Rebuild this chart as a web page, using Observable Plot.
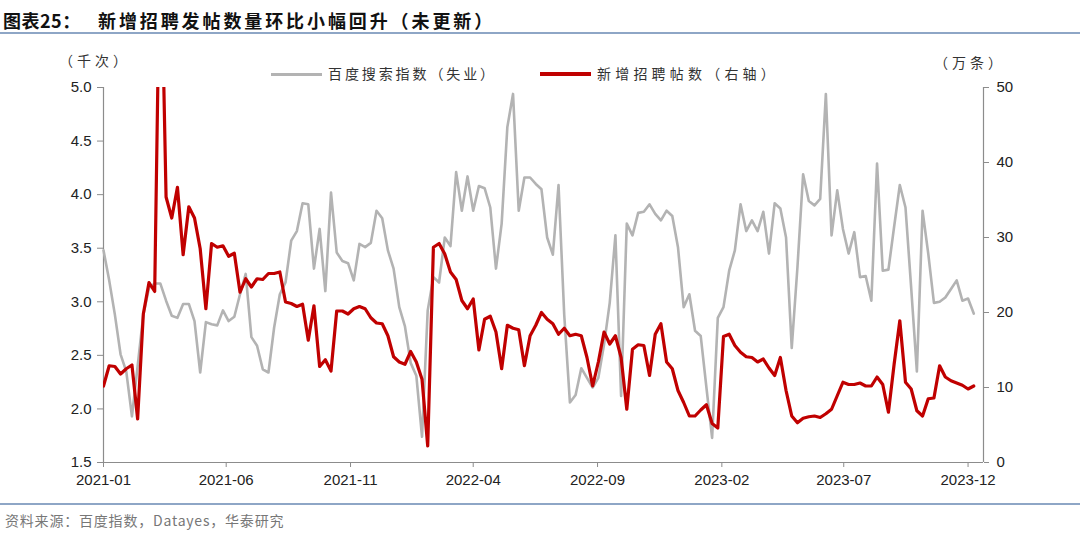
<!DOCTYPE html>
<html>
<head>
<meta charset="utf-8">
<script src="https://cdn.jsdelivr.net/npm/d3@7"></script>
<script src="https://cdn.jsdelivr.net/npm/@observablehq/plot@0.6"></script>
<style>
  html, body { margin: 0; padding: 0; background: #fff; }
  #wrap { position: relative; width: 1080px; height: 536px; overflow: hidden; font-family: "Noto Sans CJK SC", sans-serif; }
  .abs { position: absolute; white-space: nowrap; }
  #chart { position: absolute; left: 0; top: 0; }
</style>
</head>
<body>
<div id="wrap">
  <div class="abs" style="left:3px; top:7px; font-size:18px; font-weight:700; color:#111; letter-spacing:0.5px;">图表25：</div>
  <div class="abs" style="left:98px; top:7px; font-size:18px; font-weight:700; color:#111; letter-spacing:2.9px;">新增招聘发帖数量环比小幅回升（未更新）</div>
  <div class="abs" style="left:0; top:32px; width:1080px; height:2px; background:#8ea6c6;"></div>
  <div class="abs" style="left:59px; top:50px; font-size:14px; color:#333; letter-spacing:4px;">（千次）</div>
  <div class="abs" style="left:934px; top:52px; font-size:14px; color:#333; letter-spacing:4px;">（万条）</div>
  <div class="abs" style="left:271px; top:73px; width:51px; height:3px; background:#b3b3b3;"></div>
  <div class="abs" style="left:328px; top:63px; font-size:14px; color:#333; letter-spacing:2.9px;">百度搜索指数（失业）</div>
  <div class="abs" style="left:540px; top:72px; width:51px; height:4px; background:#c00000;"></div>
  <div class="abs" style="left:597px; top:63px; font-size:14px; color:#333; letter-spacing:4.2px;">新增招聘帖数（右轴）</div>
  <div class="abs" style="left:0; top:503px; width:1080px; height:2px; background:#8ea6c6;"></div>
  <div class="abs" style="left:5px; top:510px; font-size:14px; color:#777; letter-spacing:0.8px;">资料来源：百度指数，Datayes，华泰研究</div>
  <div id="chart"></div>
</div>
<script>
// Weekly series starting 2021-01-01
const startDate = "2021-01-01";
const xTickLabels = ["2021-01", "2021-06", "2021-11", "2022-04", "2022-09", "2023-02", "2023-07", "2023-12"];
const leftTicks = [1.5, 2.0, 2.5, 3.0, 3.5, 4.0, 4.5, 5.0];
const rightTicks = [0, 10, 20, 30, 40, 50];

// 百度搜索指数（失业），千次
const baiduIndex = [
  3.48, 3.20, 2.88, 2.51, 2.35, 1.93, 2.40, 2.88, 3.13, 3.17,
  3.17, 3.01, 2.87, 2.85, 2.98, 2.98, 2.82, 2.34, 2.81, 2.79,
  2.78, 2.92, 2.82, 2.86, 3.07, 3.26, 2.67, 2.59, 2.37, 2.34,
  2.76, 3.07, 3.18, 3.57, 3.66, 3.92, 3.91, 3.31, 3.68, 3.10,
  4.02, 3.46, 3.38, 3.36, 3.20, 3.54, 3.51, 3.55, 3.85, 3.78,
  3.48, 3.31, 2.95, 2.77, 2.43, 2.31, 1.74, 2.92, 3.23, 3.18,
  3.60, 3.52, 4.21, 3.85, 4.17, 3.85, 4.08, 4.06, 3.88, 3.31,
  3.73, 4.63, 4.94, 3.85, 4.16, 4.16, 4.10, 4.05, 3.60, 3.44,
  4.09, 2.88, 2.06, 2.13, 2.38, 2.29, 2.20, 2.29, 2.60, 2.99,
  3.62, 2.12, 3.73, 3.62, 3.83, 3.84, 3.91, 3.82, 3.76, 3.85,
  3.80, 3.51, 2.95, 3.07, 2.73, 2.68, 2.20, 1.73, 2.85, 2.95,
  3.29, 3.48, 3.91, 3.66, 3.76, 3.66, 3.84, 3.45, 3.92, 3.87,
  3.60, 2.57, 3.32, 4.19, 3.94, 3.90, 3.96, 4.94, 3.62, 4.04,
  3.68, 3.45, 3.65, 3.23, 3.24, 3.01, 4.29, 3.29, 3.30, 3.70,
  4.09, 3.88, 3.13, 2.35, 3.85, 3.45, 2.99, 3.00, 3.04, 3.12,
  3.20, 3.01, 3.03, 2.89
];

// 新增招聘帖数（右轴），万条
const newPosts = [
  10.2, 12.9, 12.8, 11.8, 12.5, 13.0, 5.8, 19.8, 24.0, 22.8,
  73.0, 35.4, 32.6, 36.7, 27.7, 34.1, 32.6, 28.5, 20.5, 29.2,
  28.7, 28.9, 27.5, 27.9, 22.7, 24.5, 23.4, 24.5, 24.4, 25.2,
  25.2, 25.4, 21.4, 21.2, 20.8, 21.1, 16.3, 20.9, 12.8, 13.7,
  12.2, 20.2, 20.2, 19.8, 20.5, 20.8, 20.5, 19.3, 18.6, 18.5,
  16.9, 14.1, 13.4, 13.1, 14.8, 13.4, 11.1, 2.2, 28.7, 29.2,
  27.8, 25.4, 24.4, 21.6, 20.5, 21.8, 15.0, 19.1, 19.5, 17.4,
  12.5, 18.3, 17.9, 17.7, 12.9, 16.9, 18.3, 20.0, 19.1, 18.5,
  17.1, 17.9, 16.9, 17.1, 16.9, 14.0, 10.2, 13.4, 17.4, 15.8,
  16.9, 14.0, 7.1, 15.1, 15.7, 15.6, 11.6, 17.1, 18.5, 13.4,
  12.5, 9.6, 8.0, 6.2, 6.2, 7.0, 7.7, 5.2, 4.6, 16.8,
  17.1, 15.6, 14.7, 14.1, 14.0, 13.4, 13.8, 12.6, 11.6, 14.0,
  9.6, 6.2, 5.3, 5.9, 6.1, 6.2, 6.0, 6.5, 7.1, 8.9,
  10.7, 10.4, 10.4, 10.6, 10.2, 10.2, 11.4, 10.4, 6.7, 13.1,
  18.9, 10.7, 9.8, 6.9, 6.2, 8.5, 8.6, 12.9, 11.4, 10.9,
  10.6, 10.3, 9.8, 10.2
];

const parse = d3.utcParse("%Y-%m-%d");
const start = parse(startDate);
const dates = baiduIndex.map((_, i) => d3.utcDay.offset(start, 7 * i));
const xTicks = xTickLabels.map(s => d3.utcParse("%Y-%m")(s));
const xDomain = [start, parse("2023-12-20")];

// map right axis (0–50) onto left axis (1.5–5.0)
const r2l = d3.scaleLinear([0, 50], [1.5, 5.0]);

const gray = baiduIndex.map((v, i) => ({date: dates[i], v}));
const red = newPosts.map((v, i) => ({date: dates[i], v: r2l(v)}));

const axisColor = "#8c8c8c";
const chart = Plot.plot({
  width: 1080,
  height: 536,
  marginTop: 87,
  marginBottom: 74,
  marginLeft: 103,
  marginRight: 97,
  style: {fontFamily: "'Liberation Sans', Arial, sans-serif", fontSize: "15px", color: "#222", background: "transparent"},
  x: {type: "utc", domain: xDomain},
  y: {domain: [1.5, 5.0]},
  marks: [
    Plot.axisX(xTicks, {tickFormat: d3.utcFormat("%Y-%m"), tickSize: 5, tickPadding: 7, stroke: axisColor, fill: "#222", fontSize: 15, label: null}),
    Plot.axisY(leftTicks, {anchor: "left", tickFormat: d3.format(".1f"), tickSize: 6, tickPadding: 6, stroke: axisColor, fill: "#222", fontSize: 15, label: null}),
    Plot.axisY(rightTicks, {anchor: "right", y: r2l, tickFormat: d => String(d), tickSize: 5, tickPadding: 8, stroke: axisColor, fill: "#222", fontSize: 15, label: null}),
    Plot.ruleY([1.5], {stroke: axisColor, strokeWidth: 1.2}),
    Plot.ruleX([xDomain[0]], {stroke: axisColor, strokeWidth: 1.2}),
    Plot.ruleX([xDomain[1]], {stroke: axisColor, strokeWidth: 1.2}),
    Plot.line(gray, {x: "date", y: "v", stroke: "#b3b3b3", strokeWidth: 2.6, curve: "linear"}),
    Plot.line(red, {x: "date", y: "v", stroke: "#c00000", strokeWidth: 3.2, curve: "linear", clip: true})
  ]
});
document.getElementById("chart").appendChild(chart);
</script>
</body>
</html>
